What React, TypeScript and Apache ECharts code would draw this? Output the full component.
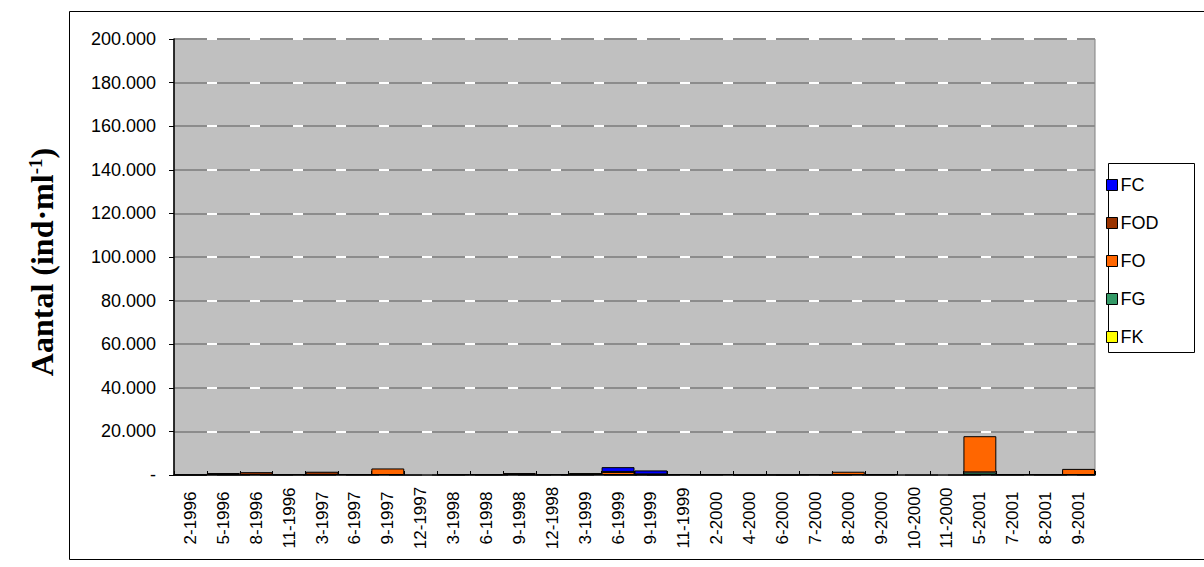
import React, { useEffect, useRef } from "react";
import * as echarts from "echarts";

// Sampling dates (month-year)
const categories = [
  "2-1996", "5-1996", "8-1996", "11-1996", "3-1997", "6-1997", "9-1997", "12-1997",
  "3-1998", "6-1998", "9-1998", "12-1998", "3-1999", "6-1999", "9-1999", "11-1999",
  "2-2000", "4-2000", "6-2000", "7-2000", "8-2000", "9-2000", "10-2000", "11-2000",
  "5-2001", "7-2001", "8-2001", "9-2001",
];

// Abundance per group (ind·ml-1), stacked from FK at the bottom to FC on top
const fk = [0, 0, 0, 0, 0, 0, 0, 0, 0, 0, 0, 0, 900, 0, 0, 0, 0, 0, 0, 0, 0, 0, 0, 0, 0, 0, 0, 0];
const fg = [0, 0, 0, 0, 0, 0, 0, 0, 0, 0, 0, 0, 0, 0, 0, 0, 0, 0, 0, 0, 0, 0, 0, 0, 1200, 0, 0, 0];
const fo = [0, 0, 0, 0, 0, 0, 3000, 0, 0, 0, 900, 0, 0, 1400, 300, 0, 0, 0, 0, 0, 1500, 0, 0, 0, 16600, 0, 0, 2800];
const fod = [100, 900, 1300, 300, 1500, 400, 0, 0, 300, 300, 0, 300, 0, 0, 0, 400, 400, 100, 100, 300, 0, 400, 0, 0, 0, 400, 400, 0];
const fc = [0, 0, 0, 0, 0, 0, 0, 0, 0, 0, 0, 0, 0, 2200, 1800, 0, 0, 0, 0, 0, 0, 0, 0, 0, 0, 0, 0, 0];

const yTicks = { min: 0, max: 200000, interval: 20000 };

const colors = {
  FC: "#0000FF",
  FOD: "#993300",
  FO: "#FF6600",
  FG: "#339966",
  FK: "#FFFF00",
};

const legendOrder = ["FC", "FOD", "FO", "FG", "FK"];

function formatThousands(v: number): string {
  if (v === 0) return "-";
  return String(v).replace(/\B(?=(\d{3})+(?!\d))/g, ".");
}

export default function App() {
  const ref = useRef<HTMLDivElement>(null);

  useEffect(() => {
    if (!ref.current) return;
    const chart = echarts.init(ref.current, undefined, { renderer: "svg" });

    const stackSeries = [
      { name: "FK", data: fk },
      { name: "FG", data: fg },
      { name: "FO", data: fo },
      { name: "FOD", data: fod },
      { name: "FC", data: fc },
    ].map((s) => ({
      name: s.name,
      type: "bar" as const,
      stack: "total",
      barWidth: "100%",
      barCategoryGap: "0%",
      data: s.data.map((v) => (v === 0 ? null : v)),
      itemStyle: {
        color: (colors as any)[s.name],
        borderColor: "#000000",
        borderWidth: 1,
      },
      emphasis: { disabled: true },
    }));

    chart.setOption({
      animation: false,
      textStyle: { fontFamily: "Liberation Sans, Arial, sans-serif" },
      grid: {
        left: 174,
        top: 39,
        right: 109,
        bottom: 92,
        show: true,
        backgroundColor: "#C0C0C0",
        borderColor: "#808080",
        borderWidth: 1,
      },
      graphic: [
        {
          type: "rect",
          shape: { x: 69.5, y: 11.5, width: 1160, height: 548 },
          style: { fill: "none", stroke: "#000000", lineWidth: 1 },
          silent: true,
          z: -1,
        },
        {
          type: "rect",
          shape: { x: 1108.5, y: 163.5, width: 86, height: 189 },
          style: { fill: "#FFFFFF", stroke: "#000000", lineWidth: 1 },
          silent: true,
          z: 0,
        },
        {
          type: "text",
          x: 42,
          y: 262,
          rotation: Math.PI / 2,
          style: {
            text: "{m|Aantal (ind·ml}{s|-1}{m|)}",
            align: "center",
            verticalAlign: "middle",
            rich: {
              m: {
                fontFamily: "Liberation Serif, Times New Roman, serif",
                fontWeight: "bold",
                fontSize: 32,
                fill: "#000000",
              },
              s: {
                fontFamily: "Liberation Serif, Times New Roman, serif",
                fontWeight: "bold",
                fontSize: 19,
                verticalAlign: "top",
                fill: "#000000",
              },
            },
          },
          silent: true,
        },
      ],
      legend: {
        data: legendOrder,
        orient: "vertical",
        left: 1106,
        top: 176,
        padding: 0,
        itemWidth: 11,
        itemHeight: 11,
        itemGap: 20,
        icon: "rect",
        itemStyle: { borderColor: "#000000", borderWidth: 1 },
        textStyle: {
          fontSize: 18,
          color: "#000000",
          fontFamily: "Liberation Sans, Arial, sans-serif",
          padding: [0, 0, 0, -2],
        },
        selectedMode: false,
        z: 5,
      },
      xAxis: {
        type: "category",
        data: categories,
        boundaryGap: true,
        axisLine: { show: true, lineStyle: { color: "#000000", width: 1.5 } },
        axisTick: {
          show: true,
          inside: true,
          length: 4,
          alignWithLabel: false,
          lineStyle: { color: "#000000" },
        },
        axisLabel: {
          rotate: 90,
          interval: 0,
          margin: 43,
          align: "center",
          verticalAlign: "middle",
          fontSize: 17,
          color: "#000000",
          fontFamily: "Liberation Sans, Arial, sans-serif",
        },
        splitLine: { show: false },
      },
      yAxis: [
        {
          type: "value",
          min: yTicks.min,
          max: yTicks.max,
          interval: yTicks.interval,
          axisLine: { show: true, lineStyle: { color: "#000000", width: 1.5 } },
          axisTick: { show: true, inside: false, length: 5, lineStyle: { color: "#000000" } },
          axisLabel: {
            margin: 18,
            fontSize: 18,
            color: "#000000",
            fontFamily: "Liberation Sans, Arial, sans-serif",
            formatter: (v: number) => formatThousands(v),
          },
          splitLine: { show: true, lineStyle: { color: "#FFFFFF", width: 2, type: "solid" } },
        },
        {
          type: "value",
          min: yTicks.min,
          max: yTicks.max,
          interval: yTicks.interval,
          position: "left",
          axisLine: { show: false },
          axisTick: { show: false },
          axisLabel: { show: false },
          splitLine: {
            show: true,
            lineStyle: { color: "#8C8C8C", width: 2, type: [33, 10], dashOffset: 0 },
          },
        },
      ],
      series: stackSeries,
    });

    return () => chart.dispose();
  }, []);

  return (
    <div
      ref={ref}
      style={{ position: "absolute", left: 0, top: 0, width: 1204, height: 567, background: "#FFFFFF" }}
    />
  );
}
